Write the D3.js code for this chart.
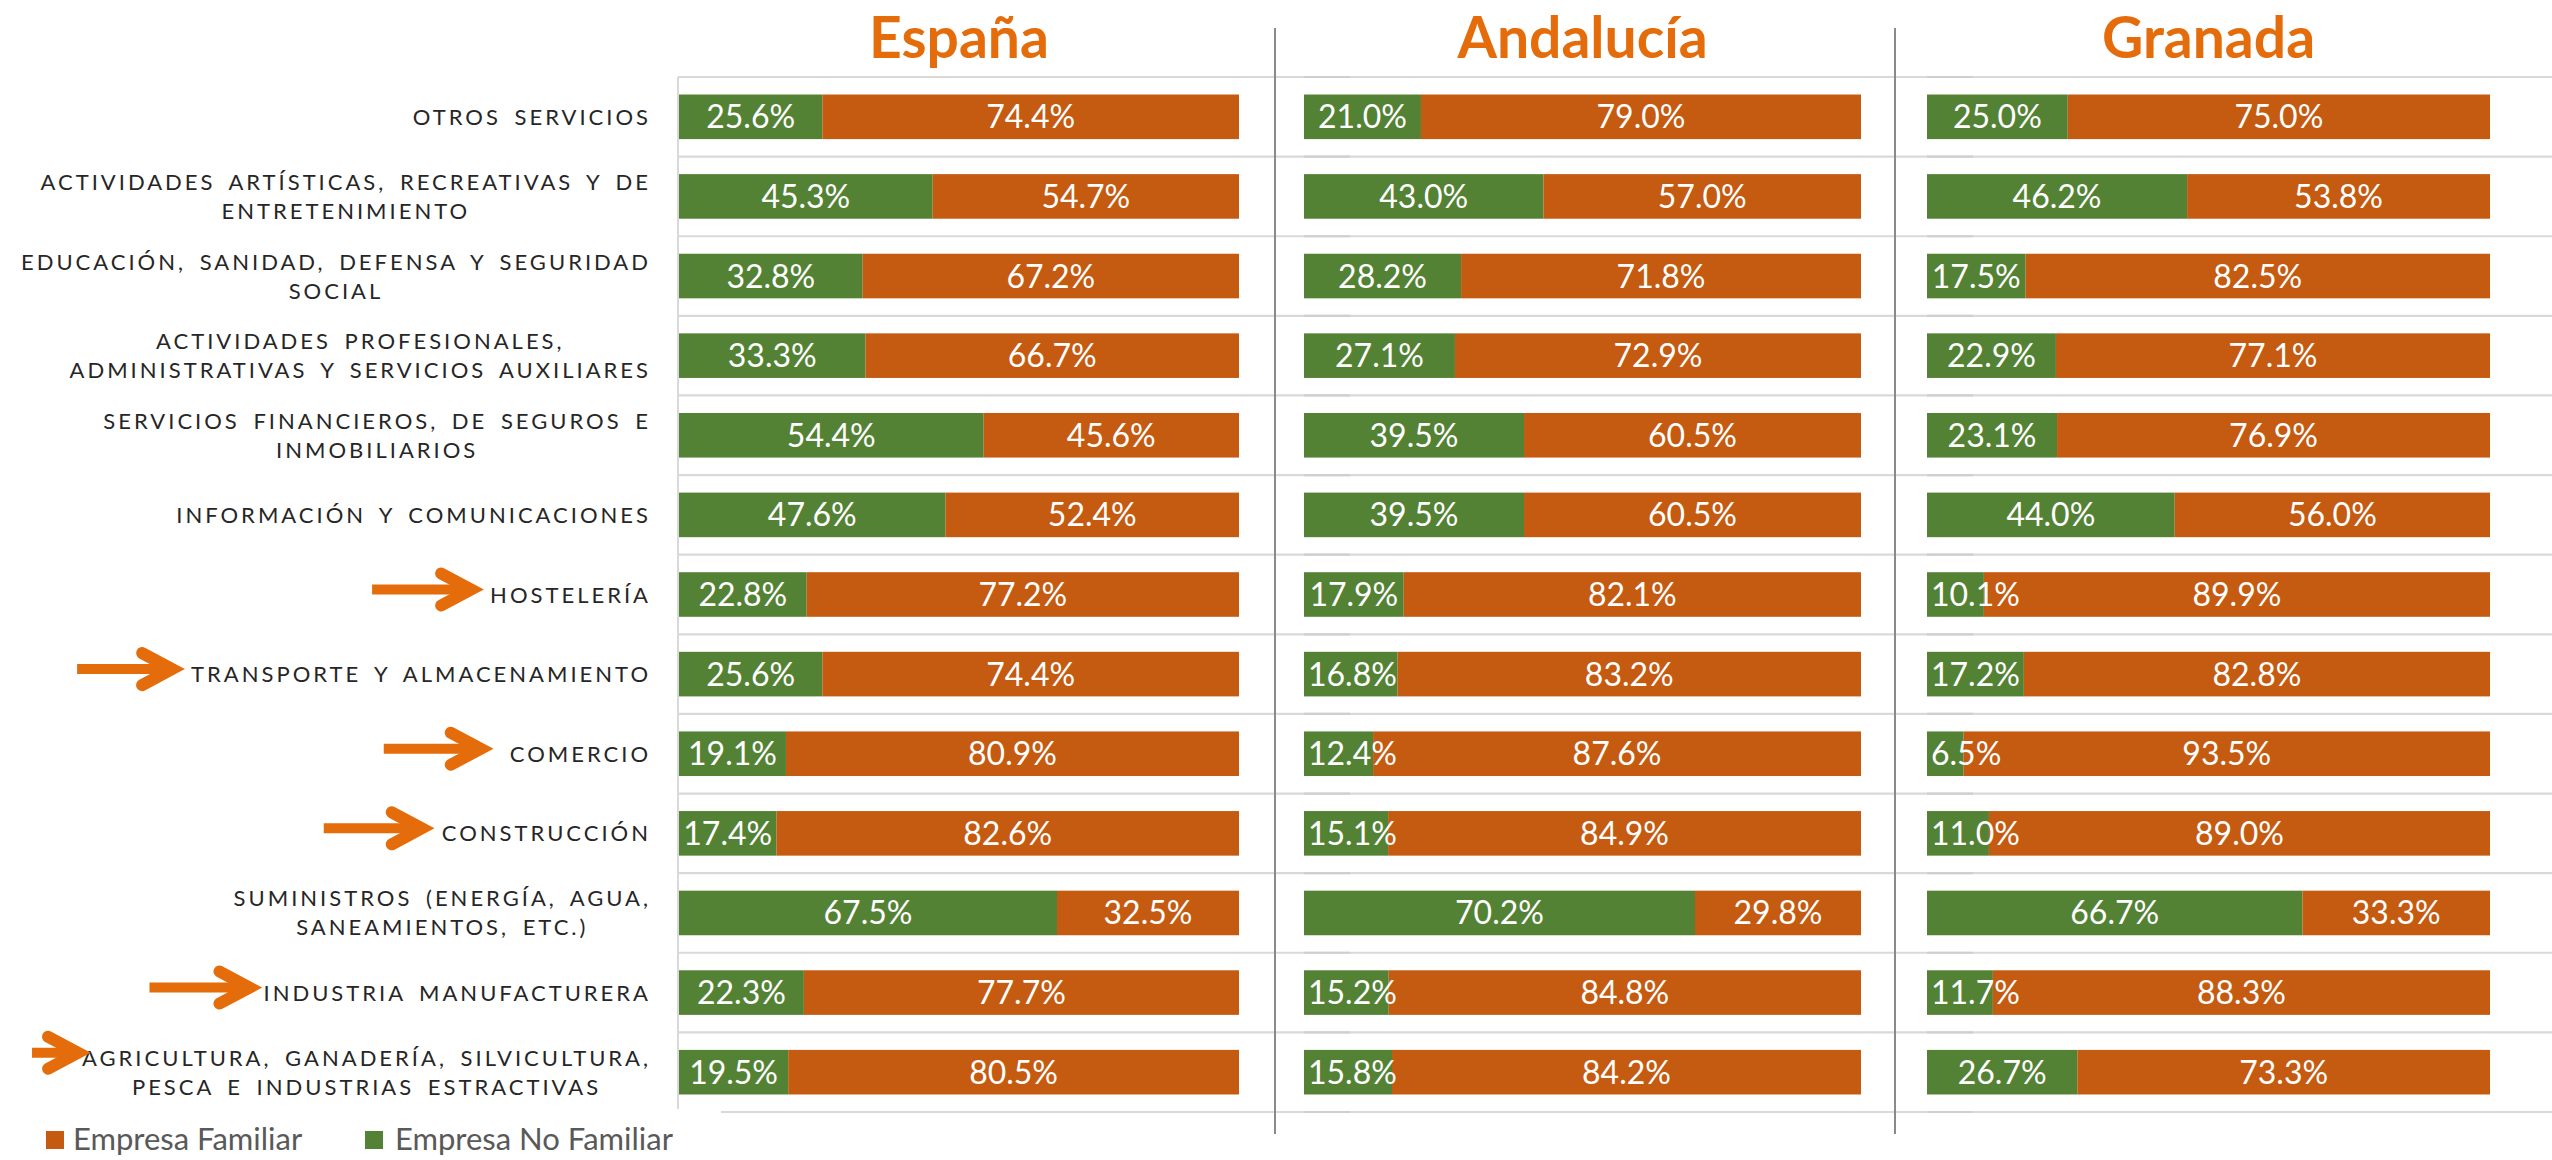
<!DOCTYPE html>
<html>
<head>
<meta charset="utf-8">
<script src="https://cdn.jsdelivr.net/npm/d3@7"></script>
<style>
  html, body { margin: 0; padding: 0; background: #fff; }
  svg { display: block; }
</style>
</head>
<body>
<svg id="chart" width="2552" height="1160"></svg>
<script>
// ---------------- DATA ----------------
const categories = [
  "OTROS SERVICIOS",
  "ACTIVIDADES ARTÍSTICAS, RECREATIVAS Y DE|ENTRETENIMIENTO",
  "EDUCACIÓN, SANIDAD, DEFENSA Y SEGURIDAD|SOCIAL",
  "ACTIVIDADES PROFESIONALES,|ADMINISTRATIVAS Y SERVICIOS AUXILIARES",
  "SERVICIOS FINANCIEROS, DE SEGUROS E|INMOBILIARIOS",
  "INFORMACIÓN Y COMUNICACIONES",
  "HOSTELERÍA",
  "TRANSPORTE Y ALMACENAMIENTO",
  "COMERCIO",
  "CONSTRUCCIÓN",
  "SUMINISTROS (ENERGÍA, AGUA,|SANEAMIENTOS, ETC.)",
  "INDUSTRIA MANUFACTURERA",
  "AGRICULTURA, GANADERÍA, SILVICULTURA,|PESCA E INDUSTRIAS ESTRACTIVAS"
];
const regions = ["España", "Andalucía", "Granada"];
const seriesNames = ["Empresa No Familiar", "Empresa Familiar"];
const legendOrder = ["Empresa Familiar", "Empresa No Familiar"];

// Empresa No Familiar (%) per region, in category order
const noFamiliarEspana    = [25.6, 45.3, 32.8, 33.3, 54.4, 47.6, 22.8, 25.6, 19.1, 17.4, 67.5, 22.3, 19.5];
const noFamiliarAndalucia = [21.0, 43.0, 28.2, 27.1, 39.5, 39.5, 17.9, 16.8, 12.4, 15.1, 70.2, 15.2, 15.8];
const noFamiliarGranada   = [25.0, 46.2, 17.5, 22.9, 23.1, 44.0, 10.1, 17.2,  6.5, 11.0, 66.7, 11.7, 26.7];
// Empresa Familiar (%) per region
const familiarEspana      = [74.4, 54.7, 67.2, 66.7, 45.6, 52.4, 77.2, 74.4, 80.9, 82.6, 32.5, 77.7, 80.5];
const familiarAndalucia   = [79.0, 57.0, 71.8, 72.9, 60.5, 60.5, 82.1, 83.2, 87.6, 84.9, 29.8, 84.8, 84.2];
const familiarGranada     = [75.0, 53.8, 82.5, 77.1, 76.9, 56.0, 89.9, 82.8, 93.5, 89.0, 33.3, 88.3, 73.3];

// sectors highlighted by an arrow
const arrowedCategories = ["HOSTELERÍA", "TRANSPORTE Y ALMACENAMIENTO", "COMERCIO", "CONSTRUCCIÓN",
  "INDUSTRIA MANUFACTURERA", "AGRICULTURA, GANADERÍA, SILVICULTURA,|PESCA E INDUSTRIAS ESTRACTIVAS"];

// ---------------- STYLE / LAYOUT ----------------
const colors = { "Empresa No Familiar": "#548235", "Empresa Familiar": "#C55A11" };
const titleColor = "#E46C0A";
const arrowColor = "#E46C0A";
const fontFamily = "Lato, 'Noto Sans', sans-serif";
const panels = [
  { x0: 679,  x1: 1239 },
  { x0: 1304, x1: 1861 },
  { x0: 1927, x1: 2490 }
];
const plotTop = 77, plotBottom = 1112;
const labelRight = 648;
const catFont = 22, catSpacing = 3.0, catWordSpacing = 5, lineGap = 29;
// per-arrow gap to the label and arrow length
const arrowGeom = {
  "HOSTELERÍA": [16, 102],
  "TRANSPORTE Y ALMACENAMIENTO": [16, 98],
  "COMERCIO": [26, 100],
  "CONSTRUCCIÓN": [17, 101],
  "INDUSTRIA MANUFACTURERA": [11, 103],
  "AGRICULTURA, GANADERÍA, SILVICULTURA,|PESCA E INDUSTRIAS ESTRACTIVAS": [1, 49]
};

const svg = d3.select("#chart");
const W = 2552;

const y = d3.scaleBand().domain(categories).range([plotTop, plotBottom])
  .paddingInner(0.44).paddingOuter(0.22);
const step = y.step();

const regionData = [
  { name: regions[0], nf: noFamiliarEspana, f: familiarEspana },
  { name: regions[1], nf: noFamiliarAndalucia, f: familiarAndalucia },
  { name: regions[2], nf: noFamiliarGranada, f: familiarGranada }
];

// gridlines
const gridG = svg.append("g");
const bounds = d3.range(categories.length + 1).map(k => plotTop + k * step);
gridG.selectAll("line.grid").data(bounds).join("line")
  .attr("x1", panels[0].x0 - 1).attr("x2", W)
  .attr("y1", d => d).attr("y2", d => d)
  .attr("stroke", "#d9d9d9").attr("stroke-width", 2.2);
panels.slice(1).forEach(p => {
  gridG.selectAll(null).data(bounds).join("line")
    .attr("x1", p.x0).attr("x2", p.x0 + 46)
    .attr("y1", d => d).attr("y2", d => d)
    .attr("stroke", "#cfcfcf").attr("stroke-width", 2.2);
});
// España category axis line
gridG.append("line")
  .attr("x1", panels[0].x0 - 1).attr("x2", panels[0].x0 - 1)
  .attr("y1", plotTop).attr("y2", plotBottom)
  .attr("stroke", "#d9d9d9").attr("stroke-width", 2);

// separators
[1275, 1895].forEach(x => {
  svg.append("line").attr("x1", x).attr("x2", x).attr("y1", 28).attr("y2", 1134)
    .attr("stroke", "#8a8a8a").attr("stroke-width", 2);
});

const fmt = d => d3.format(".1f")(d) + "%";

regionData.forEach((r, ri) => {
  const p = panels[ri];
  const x = d3.scaleLinear().domain([0, 100]).range([p.x0, p.x1]);
  const g = svg.append("g");
  const rows = categories.map((c, i) => ({ c, nf: r.nf[i], f: r.f[i] }));
  const stack = d3.stack().keys(["nf", "f"])(rows);
  stack.forEach((layer, li) => {
    const color = colors[seriesNames[li]];
    g.selectAll(null).data(layer).join("rect")
      .attr("x", d => x(d[0]))
      .attr("width", d => x(d[1]) - x(d[0]))
      .attr("y", d => y(d.data.c))
      .attr("height", y.bandwidth())
      .attr("fill", color);
  });
  stack.forEach(layer => {
    g.selectAll(null).data(layer).join("text")
      .attr("y", d => y(d.data.c) + y.bandwidth() / 2 + 11.5)
      .attr("text-anchor", "middle")
      .attr("fill", "#fff")
      .attr("font-family", fontFamily)
      .attr("font-size", 32)
      .text(d => fmt(d[1] - d[0]))
      .attr("x", function (d) {
        const w = this.getComputedTextLength();
        let cx = (x(d[0]) + x(d[1])) / 2;
        const minLeft = x(d[0]) + 4;
        if (cx - w / 2 < minLeft) cx = minLeft + w / 2;
        return cx;
      });
  });
  // title
  svg.append("text")
    .attr("x", (p.x0 + p.x1) / 2).attr("y", 58)
    .attr("text-anchor", "middle")
    .attr("fill", titleColor)
    .attr("font-family", fontFamily)
    .attr("font-weight", 700)
    .attr("font-size", 57)
    .text(r.name);
});

// category labels
const labG = svg.append("g");
categories.forEach(c => {
  const lines = c.split("|");
  const cy = y(c) + y.bandwidth() / 2;
  const n = lines.length;
  const texts = lines.map((ln, li) => labG.append("text")
    .attr("font-family", fontFamily)
    .attr("font-size", catFont)
    .attr("letter-spacing", catSpacing)
    .attr("word-spacing", catWordSpacing)
    .attr("fill", "#262626")
    .attr("text-anchor", "middle")
    .attr("y", cy + (li - (n - 1) / 2) * lineGap + 8)
    .text(ln));
  const widths = texts.map(t => t.node().getBBox().width - catSpacing);
  const maxW = d3.max(widths);
  const center = labelRight - maxW / 2;
  texts.forEach(t => t.attr("x", center + catSpacing / 2));
  if (arrowedCategories.includes(c)) {
    const [gap, len] = arrowGeom[c];
    const left = center - widths[0] / 2;
    const tip = left - gap;
    const ay = cy - ((n - 1) / 2) * lineGap - 5;
    const ag = svg.append("g").attr("fill", "none").attr("stroke", arrowColor);
    ag.append("line").attr("x1", tip - len).attr("x2", tip - 6)
      .attr("y1", ay).attr("y2", ay).attr("stroke-width", 10);
    ag.append("path")
      .attr("d", d3.line()([[tip - 33, ay - 16], [tip - 3, ay], [tip - 33, ay + 16]]))
      .attr("stroke-width", 12)
      .attr("stroke-linecap", "round")
      .attr("stroke-linejoin", "miter");
  }
});

// cover under legend
svg.append("rect").attr("x", 0).attr("y", plotBottom - 3).attr("width", 721).attr("height", 60).attr("fill", "#fff");

// legend
const lg = svg.append("g");
const legendPos = [{ sx: 46, tx: 73 }, { sx: 365, tx: 395 }];
legendOrder.forEach((name, i) => {
  lg.append("rect").attr("x", legendPos[i].sx).attr("y", 1131).attr("width", 18).attr("height", 18)
    .attr("fill", colors[name]);
  lg.append("text").attr("x", legendPos[i].tx).attr("y", 1150)
    .attr("font-family", fontFamily).attr("font-size", 31).attr("fill", "#595959")
    .text(name);
});
</script>
</body>
</html>
